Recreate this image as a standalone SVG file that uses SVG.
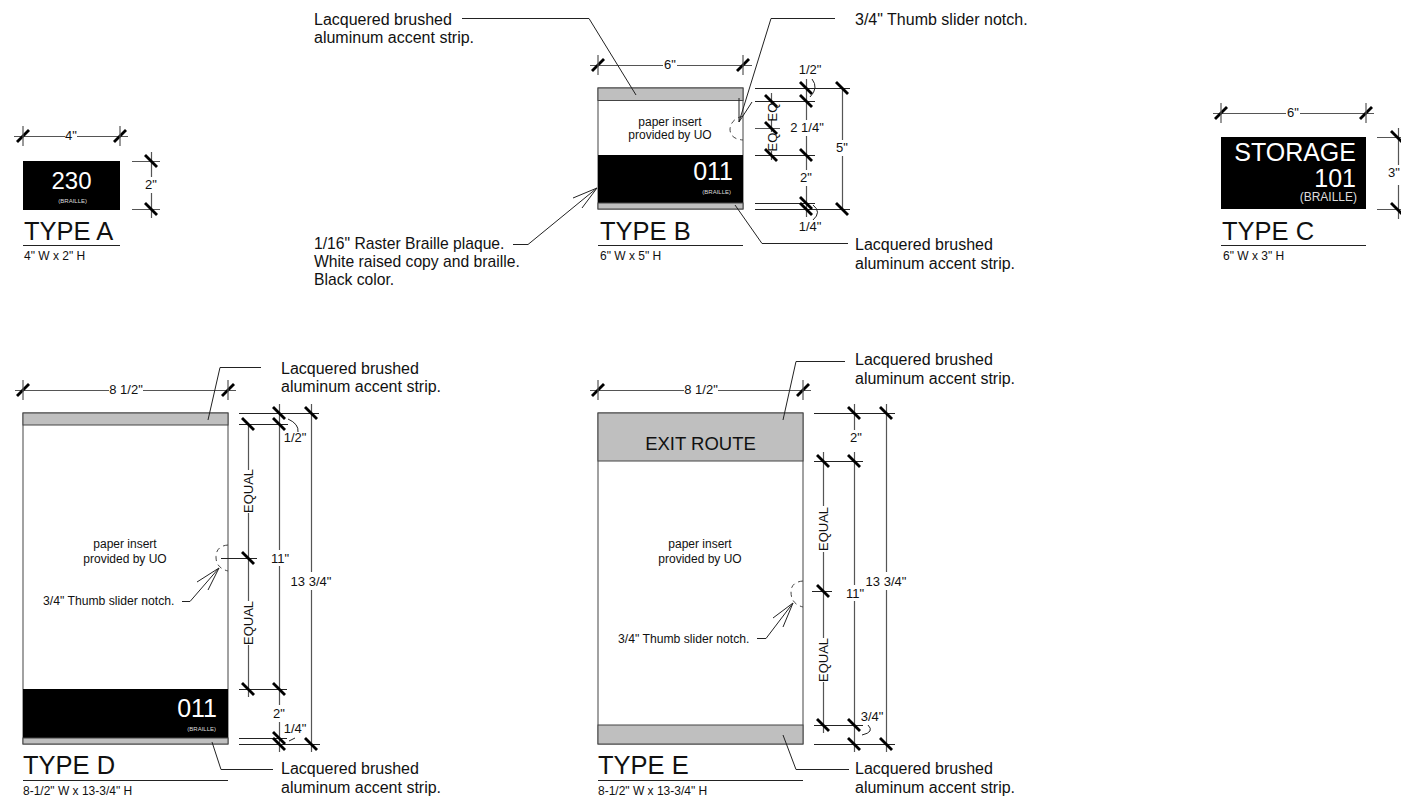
<svg xmlns="http://www.w3.org/2000/svg" width="1401" height="803" viewBox="0 0 1401 803">
<defs>
<style>
text{font-family:"Liberation Sans",Arial,sans-serif;fill:#111}
.l{font-size:16px}
.d{font-size:13px;text-anchor:middle}
.t{font-size:25.500px}
.s{font-size:12px}
.n{font-size:12.200px}
.p{font-size:12px;text-anchor:middle}
.w{fill:#fff}
.br{fill:#ddd;font-size:6px;text-anchor:end}
.g{fill:#bfbfbf;stroke:#444;stroke-width:1}
.b{fill:#000}
.o{fill:#fff;stroke:#444;stroke-width:1}
.ln{fill:none;stroke:#222;stroke-width:1}
.dim{fill:none;stroke:#555;stroke-width:1.200}
.tk{fill:none;stroke:#000;stroke-width:2.800}
.da{fill:none;stroke:#444;stroke-width:1;stroke-dasharray:5 4}
</style>
<g id="ta"><path class="tk" d="M-6 6L6 -6"/><path class="dim" d="M0 -10V10"/></g>
<g id="tb"><path class="tk" d="M-6 -6L6 6"/></g>
</defs>
<rect width="1401" height="803" fill="#fff"/>

<g id="type-a">
<rect class="b" x="23" y="161" width="97" height="49"/>
<text x="71.500" y="189" class="w" font-size="24" text-anchor="middle">230</text>
<text x="87" y="203" class="br">(BRAILLE)</text>
<text x="24" y="240" class="t">TYPE A</text>
<path class="ln" d="M23 245.500H120"/>
<text x="24" y="260" class="s">4" W x 2" H</text>
</g>

<g id="type-b">
<rect class="o" x="598" y="88" width="145" height="121"/>
<rect class="g" x="598" y="88" width="145" height="12.500"/>
<rect class="b" x="598" y="155" width="145" height="48"/>
<rect class="g" x="598" y="203" width="145" height="6"/>
<text x="670" y="126" class="p">paper insert</text>
<text x="670" y="139" class="p">provided by UO</text>
<text x="733" y="180" class="w" font-size="25" text-anchor="end">011</text>
<text x="731" y="194" class="br">(BRAILLE)</text>
<text x="600" y="240" class="t">TYPE B</text>
<path class="ln" d="M598 245.500H743"/>
<text x="600" y="260" class="s">6" W x 5" H</text>
</g>

<g id="type-c">
<rect class="b" x="1221" y="137" width="145" height="72"/>
<text x="1356" y="161" class="w" font-size="25" text-anchor="end">STORAGE</text>
<text x="1356" y="187" class="w" font-size="25" text-anchor="end">101</text>
<text x="1357" y="201" class="w" font-size="12" text-anchor="end" style="fill:#ddd">(BRAILLE)</text>
<text x="1222" y="240" class="t">TYPE C</text>
<path class="ln" d="M1221 245.500H1366"/>
<text x="1223" y="260" class="s">6" W x 3" H</text>
</g>

<g id="type-d">
<rect class="o" x="23" y="413" width="205" height="331"/>
<rect class="g" x="23" y="413" width="205" height="12"/>
<rect class="b" x="23" y="689" width="205" height="49"/>
<rect class="g" x="23" y="738" width="205" height="6"/>
<text x="125" y="548" class="p">paper insert</text>
<text x="125" y="563" class="p">provided by UO</text>
<text x="217" y="717" class="w" font-size="25" text-anchor="end">011</text>
<text x="216" y="731" class="br">(BRAILLE)</text>
<text x="23" y="774" class="t">TYPE D</text>
<path class="ln" d="M23 780.500H228"/>
<text x="23" y="795" class="s">8-1/2" W x 13-3/4" H</text>
</g>

<g id="type-e">
<rect class="o" x="598" y="413" width="205" height="331"/>
<rect class="g" x="598" y="413" width="205" height="48"/>
<rect class="g" x="598" y="725" width="205" height="19"/>
<text x="700.500" y="450" font-size="18.500" text-anchor="middle">EXIT ROUTE</text>
<text x="700" y="548" class="p">paper insert</text>
<text x="700" y="563" class="p">provided by UO</text>
<text x="598" y="774" class="t">TYPE E</text>
<path class="ln" d="M598 780.500H803"/>
<text x="598" y="795" class="s">8-1/2" W x 13-3/4" H</text>
</g>

<g id="connectors">
<!-- type A dims -->
<path class="dim" d="M14 136.500H65M77 136.500H128M151.500 152V177M151.500 193V218M132 161.500H160M132 209.500H160"/>
<use href="#ta" x="23" y="136"/><use href="#ta" x="120" y="136"/>
<use href="#tb" x="151" y="161"/><use href="#tb" x="151" y="209"/>
<!-- type B dims -->
<path class="dim" d="M590 65.500H663M677 65.500H752M842.500 88V140M842.500 156V209M806.500 79V120M806.500 136V170M806.500 186V217M771.500 93V104M771.500 119V132M771.500 151V160M755 128.500H780"/>
<path class="ln" d="M755 88.500H850M755 101.500H815M755 155.500H815M755 203.500H815M755 209.500H850"/>
<use href="#ta" x="598" y="65"/><use href="#ta" x="743" y="65"/>
<use href="#tb" x="806" y="88"/><use href="#tb" x="806" y="101"/><use href="#tb" x="806" y="155"/><use href="#tb" x="806" y="203"/><use href="#tb" x="806" y="209"/>
<use href="#tb" x="842" y="88"/><use href="#tb" x="842" y="209"/>
<use href="#tb" x="771" y="101"/><use href="#tb" x="771" y="128"/><use href="#tb" x="771" y="155"/>
<!-- type C dims -->
<path class="dim" d="M1213 113.500H1286M1300 113.500H1374M1398.500 128V165M1398.500 185V219M1377 137.500H1401M1377 209.500H1401"/>
<use href="#ta" x="1221" y="113"/><use href="#ta" x="1366" y="113"/>
<use href="#tb" x="1397" y="137"/><use href="#tb" x="1397" y="209"/>
<!-- type D dims -->
<path class="dim" d="M15 390.500H109M143 390.500H236M279.500 404V550M279.500 566V705M279.500 722V752M311.500 404V572M311.500 590V752M248.500 424V470M248.500 513V601M248.500 645V697"/>
<path class="ln" d="M239 413.500H319M239 424.500H288M221 558.500H257M239 689.500H287M239 738.500H287M239 744.500H320"/>
<use href="#ta" x="23" y="390"/><use href="#ta" x="228" y="390"/>
<use href="#tb" x="279" y="413"/><use href="#tb" x="279" y="424"/><use href="#tb" x="311" y="413"/><use href="#tb" x="248" y="424"/><use href="#tb" x="248" y="558"/><use href="#tb" x="248" y="689"/><use href="#tb" x="279" y="689"/><use href="#tb" x="279" y="738"/><use href="#tb" x="279" y="744"/><use href="#tb" x="311" y="744"/>
<!-- type E dims -->
<path class="dim" d="M590 390.500H684M718 390.500H811M854.500 404V430M854.500 452V585M854.500 601V752M886.500 404V572M886.500 590V752M823.500 452V506M823.500 552V638M823.500 682V733"/>
<path class="ln" d="M814 413.500H895M814 461.500H863M814 725.500H863M814 744.500H895M812 591.500H832"/>
<use href="#ta" x="598" y="390"/><use href="#ta" x="803" y="390"/>
<use href="#tb" x="854" y="413"/><use href="#tb" x="886" y="413"/><use href="#tb" x="823" y="461"/><use href="#tb" x="854" y="461"/><use href="#tb" x="823" y="591"/><use href="#tb" x="823" y="725"/><use href="#tb" x="854" y="725"/><use href="#tb" x="854" y="744"/><use href="#tb" x="886" y="744"/>
<!-- notches -->
<path class="da" d="M743 116Q731 119 730 129Q730 139 743 140"/>
<path class="da" d="M228 545Q216 546 216 557Q216 568 228 571"/>
<path class="da" d="M803 581Q791 582 791 592Q791 604 803 607"/>
<!-- leaders -->
<path class="ln" d="M462 18.500H589L636 95M835 18.500H771L739 122M739 122V98M739 122L752 102"/>
<path class="ln" d="M513 244.500H528L597 188M597 188L573 198M597 188L582 208"/>
<path class="ln" d="M735 205L762 243.500H848"/>
<path class="ln" d="M261 367.500H220L208 420M182 601.500H190L219 568M219 568L197 582M219 568L208 590M273 769.500H221L212 742"/>
<path class="ln" d="M845 361.500H796L783 420M757 638.500H766L793 603M793 603L773 618M793 603L783 627M849 769.500H796L783 735"/>
<!-- arc leaders -->
<path class="ln" d="M812 79Q819 88 810 97M813 205Q822 212 813 220M288 419Q299 424 298 432M868 725Q875 732 862 735M295 738L289 741"/>
</g>

<g id="labels">
<text x="314" y="25" class="l">Lacquered brushed</text>
<text x="314" y="43" class="l">aluminum accent strip.</text>
<text x="855" y="25" class="l">3/4" Thumb slider notch.</text>
<text x="314" y="249" class="l" style="font-size:15.700px">1/16" Raster Braille plaque.</text>
<text x="314" y="267" class="l" style="font-size:15.700px">White raised copy and braille.</text>
<text x="314" y="285" class="l" style="font-size:15.700px">Black color.</text>
<text x="855" y="250" class="l">Lacquered brushed</text>
<text x="855" y="269" class="l">aluminum accent strip.</text>
<text x="281" y="374" class="l">Lacquered brushed</text>
<text x="281" y="392" class="l">aluminum accent strip.</text>
<text x="281" y="774" class="l">Lacquered brushed</text>
<text x="281" y="793" class="l">aluminum accent strip.</text>
<text x="855" y="365" class="l">Lacquered brushed</text>
<text x="855" y="384" class="l">aluminum accent strip.</text>
<text x="855" y="774" class="l">Lacquered brushed</text>
<text x="855" y="793" class="l">aluminum accent strip.</text>
<text x="43" y="605" class="n">3/4" Thumb slider notch.</text>
<text x="618" y="643" class="n">3/4" Thumb slider notch.</text>
<text x="71" y="140" class="d">4"</text>
<text x="151" y="189" class="d">2"</text>
<text x="670" y="69" class="d">6"</text>
<text x="810" y="74" class="d">1/2"</text>
<text x="807" y="132" class="d">2 1/4"</text>
<text x="806" y="182" class="d">2"</text>
<text x="810" y="231" class="d">1/4"</text>
<text x="842" y="152" class="d">5"</text>
<text x="1293" y="117" class="d">6"</text>
<text x="1394" y="177" class="d">3"</text>
<text x="126" y="394" class="d">8 1/2"</text>
<text x="701" y="394" class="d">8 1/2"</text>
<text x="295" y="442" class="d">1/2"</text>
<text x="280" y="563" class="d">11"</text>
<text x="311" y="586" class="d">13 3/4"</text>
<text x="279" y="718" class="d">2"</text>
<text x="295" y="733" class="d">1/4"</text>
<text x="856" y="442" class="d">2"</text>
<text x="855" y="598" class="d">11"</text>
<text x="886" y="586" class="d">13 3/4"</text>
<text x="872" y="721" class="d">3/4"</text>
<text transform="translate(253 491) rotate(-90)" class="d">EQUAL</text>
<text transform="translate(253 623) rotate(-90)" class="d">EQUAL</text>
<text transform="translate(828 529) rotate(-90)" class="d">EQUAL</text>
<text transform="translate(828 660) rotate(-90)" class="d">EQUAL</text>
<text transform="translate(777 112) rotate(-90)" class="d">EQ</text>
<text transform="translate(777 142) rotate(-90)" class="d">EQ</text>
</g>
</svg>
